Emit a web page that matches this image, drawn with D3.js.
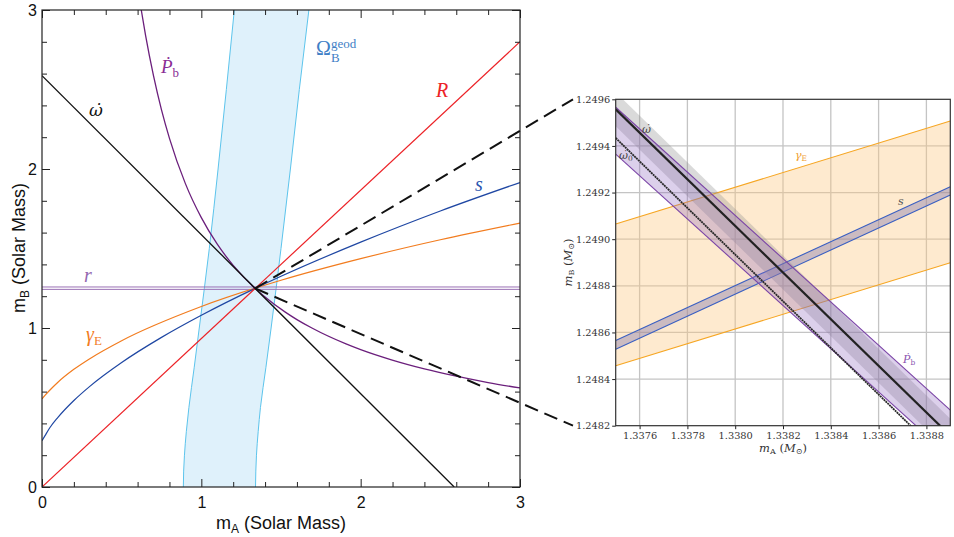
<!DOCTYPE html>
<html>
<head>
<meta charset="utf-8">
<script src="https://cdn.jsdelivr.net/npm/d3@7"></script>
<style>
  body { margin: 0; background: #fff; }
  svg { display: block; }
  .lt text { font-family: "Liberation Sans", Arial, sans-serif; font-size: 16px; fill: #111; }
  .rt text { font-family: "DejaVu Serif", serif; font-size: 9.8px; fill: #333; }
</style>
</head>
<body>
<svg id="chart" width="954" height="537"></svg>
<script>
// ---- left panel data (solar masses) ----
var majorTicks = [0, 1, 2, 3];
var minorTicks = [0.2, 0.4, 0.6, 0.8, 1.2, 1.4, 1.6, 1.8, 2.2, 2.4, 2.6, 2.8];
var omegaDotLine = [[0, 2.587], [2.587, 0]];
var ratioLine = [[0, 0], [3, 2.8]];
var sCurve = [[0, 0.291], [0.02, 0.325], [0.05, 0.374], [0.1, 0.438], [0.2, 0.544], [0.3, 0.633],
              [0.5, 0.783], [0.75, 0.941], [1.0, 1.080], [1.5, 1.325], [2.0, 1.540], [2.5, 1.736], [3.0, 1.915]];
var gammaCurve = [[0, 0.554], [0.02, 0.578], [0.05, 0.61], [0.1, 0.659], [0.2, 0.74], [0.3, 0.807],
                  [0.5, 0.92], [1.0, 1.135], [1.5, 1.30], [2.0, 1.436], [2.5, 1.555], [3.0, 1.66]];
var pbdotCurve = [[0.623, 3.0], [0.65, 2.84], [0.7, 2.585], [0.75, 2.372], [0.8, 2.193], [0.9, 1.908],
                  [1.0, 1.694], [1.1, 1.527], [1.2, 1.394], [1.3381, 1.2489], [1.394, 1.2], [1.527, 1.1],
                  [1.6, 1.053], [1.694, 1.0], [1.908, 0.9], [2.0, 0.864], [2.193, 0.8], [2.4, 0.743],
                  [2.585, 0.7], [2.8, 0.657], [3.0, 0.623]];
var shapiroR = [1.243, 1.258];
// geodetic precession band: mB, left edge mA, right edge mA
var geodMB    = [0, 0.1, 0.2, 0.35, 0.5, 0.75, 1.0, 1.5, 2.0, 2.5, 3.0];
var geodLeft  = [0.887, 0.889, 0.894, 0.906, 0.922, 0.955, 0.987, 1.05, 1.105, 1.157, 1.207];
var geodRight = [1.340, 1.342, 1.346, 1.357, 1.371, 1.405, 1.438, 1.500, 1.559, 1.615, 1.675];
var solution = [1.3381, 1.2489];

// ---- right panel data (zoom) ----
var zoomMA = [1.3375, 1.3389];
var zoomXTicks = [1.3376, 1.3378, 1.3380, 1.3382, 1.3384, 1.3386, 1.3388];
var zoomYTicks = [1.2482, 1.2484, 1.2486, 1.2488, 1.2490, 1.2492, 1.2494, 1.2496];
var gammaHi = [1.249065, 1.249507], gammaLo = [1.248457, 1.248899];
var sHi = [1.248565, 1.249225], sLo = [1.248528, 1.249190];
var omdot = [1.249557, 1.248157], omdotHi = [1.249630, 1.248230], omdotLo = [1.249484, 1.248084];
var omdot0 = [1.249434, 1.248034];
var pbHi = [1.249566, 1.248267], pbLo = [1.249365, 1.248067];

var svg = d3.select("#chart");

// ================= left panel =================
var x = d3.scaleLinear().domain([0, 3]).range([42, 520]);
var y = d3.scaleLinear().domain([0, 3]).range([487, 10]);

svg.append("clipPath").attr("id", "clipL").append("rect")
  .attr("x", 42).attr("y", 10).attr("width", 478).attr("height", 477);

var L = svg.append("g").attr("clip-path", "url(#clipL)");

// geodetic band
var geodRows = geodMB.map(function (m, i) { return { mB: m, lo: geodLeft[i], hi: geodRight[i] }; });
L.append("path").datum(geodRows)
  .attr("d", d3.area().curve(d3.curveMonotoneY).y(function (d) { return y(d.mB); })
    .x0(function (d) { return x(d.lo); }).x1(function (d) { return x(d.hi); }))
  .style("fill", "#dff1fb");
[geodLeft, geodRight].forEach(function (edge) {
  L.append("path").datum(geodRows)
    .attr("d", d3.line().curve(d3.curveMonotoneY).y(function (d) { return y(d.mB); })
      .x(function (d, i) { return x(edge[i]); }))
    .style("fill", "none").style("stroke", "#5cc4ec").style("stroke-width", 1);
});

var line = d3.line().x(function (d) { return x(d[0]); }).y(function (d) { return y(d[1]); });
var curve = d3.line().curve(d3.curveMonotoneX).x(function (d) { return x(d[0]); }).y(function (d) { return y(d[1]); });

shapiroR.forEach(function (v) {
  L.append("line").attr("x1", x(0)).attr("x2", x(3)).attr("y1", y(v)).attr("y2", y(v))
    .style("stroke", "#9a70b4").style("stroke-width", 1);
});
L.append("path").datum(gammaCurve).attr("d", curve).style("fill", "none").style("stroke", "#f27c1f").style("stroke-width", 1.2);
L.append("path").datum(sCurve).attr("d", curve).style("fill", "none").style("stroke", "#1f47a3").style("stroke-width", 1.2);
L.append("path").datum(ratioLine).attr("d", line).style("fill", "none").style("stroke", "#ec2227").style("stroke-width", 1.2);
L.append("path").datum(pbdotCurve).attr("d", curve).style("fill", "none").style("stroke", "#6b1f7c").style("stroke-width", 1.3);
L.append("path").datum(omegaDotLine).attr("d", line).style("fill", "none").style("stroke", "#111").style("stroke-width", 1.3);

// frame + inward ticks
var gl = svg.append("g").attr("class", "lt");
function ticksOn(axis, pos, cls) {
  gl.append("g").attr("transform", pos)
    .call(axis.tickValues(minorTicks).tickSize(-5).tickFormat(""))
    .call(function (g) { g.select(".domain").remove(); });
  var g2 = gl.append("g").attr("transform", pos)
    .call(axis.tickValues(majorTicks).tickSize(-8).tickFormat(cls ? d3.format("d") : ""));
  g2.select(".domain").remove();
  return g2;
}
ticksOn(d3.axisBottom(x), "translate(0,487)", true).call(function (g) { g.selectAll("text").attr("y", 10); });
ticksOn(d3.axisTop(x), "translate(0,10)", false);
ticksOn(d3.axisLeft(y), "translate(42,0)", true).call(function (g) { g.selectAll("text").attr("x", -5); });
ticksOn(d3.axisRight(y), "translate(520,0)", false);
gl.selectAll(".tick line").style("stroke", "#222");
svg.append("rect").attr("x", 42).attr("y", 10).attr("width", 478).attr("height", 477)
  .style("fill", "none").style("stroke", "#222").style("stroke-width", 1.2);

// axis titles
var xt = svg.append("text").attr("x", 281).attr("y", 529).attr("text-anchor", "middle")
  .style("font-family", "Liberation Sans, Arial, sans-serif").style("font-size", "18px").style("fill", "#111");
xt.append("tspan").text("m");
xt.append("tspan").attr("dy", 4).style("font-size", "12px").text("A");
xt.append("tspan").attr("dy", -4).text(" (Solar Mass)");
var yt = svg.append("text").attr("transform", "translate(25,248) rotate(-90)").attr("text-anchor", "middle")
  .style("font-family", "Liberation Sans, Arial, sans-serif").style("font-size", "18px").style("fill", "#111");
yt.append("tspan").text("m");
yt.append("tspan").attr("dy", 4).style("font-size", "12px").text("B");
yt.append("tspan").attr("dy", -4).text(" (Solar Mass)");

// curve labels
function label(px, py, parts, color, family) {
  var t = svg.append("text").attr("x", px).attr("y", py)
    .style("font-family", family || "Liberation Serif, Times New Roman, serif").style("fill", color);
  parts.forEach(function (p) {
    t.append("tspan").attr("dy", p.dy || 0).style("font-size", p.size + "px")
      .style("font-style", p.italic ? "italic" : "normal").text(p.text);
  });
  return t;
}
// omega-dot as one glyph cluster (DejaVu places the combining dot properly)
label(89, 116, [{ text: "\u03c9\u0307", size: 17, italic: true }], "#111", "DejaVu Serif, serif");
label(161, 73, [{ text: "\u1e56", size: 19, italic: true }, { text: "b", size: 13, dy: 4 }], "#8a2c95");
label(436, 97, [{ text: "R", size: 20, italic: true }], "#ec2227");
label(475, 191, [{ text: "s", size: 20, italic: true }], "#2a55b0");
label(84, 282, [{ text: "r", size: 20, italic: true }], "#9467b0");
label(86, 341, [{ text: "\u03b3", size: 20, italic: true }, { text: "E", size: 13, dy: 4 }], "#f27c1f");
label(316, 55, [{ text: "\u03a9", size: 20 }], "#3f80c6");
label(331, 48, [{ text: "geod", size: 13 }], "#3f80c6");
label(331, 62, [{ text: "B", size: 13 }], "#3f80c6");

// ================= right panel =================
var xr = d3.scaleLinear().domain(zoomMA).range([615.7, 950.3]);
var yr = d3.scaleLinear().domain([1.2482, 1.2496]).range([425.7, 99.3]);

// dashed connectors
[1.2496, 1.2482].forEach(function (v) {
  svg.append("line").attr("x1", x(solution[0])).attr("y1", y(solution[1]))
    .attr("x2", 573).attr("y2", yr(v))
    .style("stroke", "#111").style("stroke-width", 2).style("stroke-dasharray", "14,7");
});

svg.append("clipPath").attr("id", "clipR").append("rect")
  .attr("x", 615.7).attr("y", 99.3).attr("width", 334.6).attr("height", 326.4);
var R = svg.append("g").attr("clip-path", "url(#clipR)");

// grid
zoomXTicks.forEach(function (v) {
  R.append("line").attr("x1", xr(v)).attr("x2", xr(v)).attr("y1", 99.3).attr("y2", 425.7)
    .style("stroke", "#c4c4c4").style("stroke-width", 1.3);
});
zoomYTicks.forEach(function (v) {
  R.append("line").attr("y1", yr(v)).attr("y2", yr(v)).attr("x1", 615.7).attr("x2", 950.3)
    .style("stroke", "#c4c4c4").style("stroke-width", 1.3);
});

function band(hi, lo, fill) {
  var rows = zoomMA.map(function (m, i) { return { m: m, hi: hi[i], lo: lo[i] }; });
  R.append("path").datum(rows)
    .attr("d", d3.area().x(function (d) { return xr(d.m); })
      .y0(function (d) { return yr(d.lo); }).y1(function (d) { return yr(d.hi); }))
    .style("fill", fill);
}
function edge(vals, color, w, dash) {
  R.append("path").datum(zoomMA.map(function (m, i) { return [m, vals[i]]; }))
    .attr("d", d3.line().x(function (d) { return xr(d[0]); }).y(function (d) { return yr(d[1]); }))
    .style("fill", "none").style("stroke", color).style("stroke-width", w)
    .style("stroke-dasharray", dash || null);
}

band(gammaHi, gammaLo, "rgba(252,200,128,0.38)");
edge(gammaHi, "#f6a623", 1.1);
edge(gammaLo, "#f6a623", 1.1);
band(sHi, sLo, "rgba(120,110,170,0.38)");
edge(sHi, "#3a5fc2", 1.1);
edge(sLo, "#3a5fc2", 1.1);
band(omdotHi, omdotLo, "rgba(140,140,140,0.32)");
band(pbHi, pbLo, "rgba(140,100,190,0.3)");
edge(pbHi, "#7b45a6", 1.1);
edge(pbLo, "#7b45a6", 1.1);
edge(omdot0, "#2a2a2a", 1.8, "2,0.6");
edge(omdot, "#222", 2.2);

// spines + ticks
var gr = svg.append("g").attr("class", "rt");
gr.append("g").attr("transform", "translate(0,425.7)")
  .call(d3.axisBottom(xr).tickValues(zoomXTicks).tickSize(3.5).tickPadding(3).tickFormat(d3.format(".4f")))
  .call(function (g) { g.select(".domain").remove(); });
gr.append("g").attr("transform", "translate(615.7,0)")
  .call(d3.axisLeft(yr).tickValues(zoomYTicks).tickSize(3.5).tickPadding(2).tickFormat(d3.format(".4f")))
  .call(function (g) { g.select(".domain").remove(); });
gr.selectAll(".tick line").style("stroke", "#222");
svg.append("rect").attr("x", 615.7).attr("y", 99.3).attr("width", 334.6).attr("height", 326.4)
  .style("fill", "none").style("stroke", "#333").style("stroke-width", 1.2);

// axis titles
function rtitle(t) {
  t.style("font-family", "DejaVu Serif, serif").style("font-size", "11.5px").style("fill", "#333");
  t.append("tspan").style("font-style", "italic").text("m");
  t.append("tspan").attr("dy", 2).style("font-size", "8px").text(t.attr("data-sub"));
  t.append("tspan").attr("dy", -2).text(" (");
  t.append("tspan").style("font-style", "italic").text("M");
  t.append("tspan").attr("dy", 2).style("font-size", "8px").text("\u2299");
  t.append("tspan").attr("dy", -2).text(")");
}
rtitle(svg.append("text").attr("data-sub", "A").attr("x", 783).attr("y", 452).attr("text-anchor", "middle"));
rtitle(svg.append("text").attr("data-sub", "B").attr("transform", "translate(572,262.5) rotate(-90)").attr("text-anchor", "middle"));

// band labels
function rlabel(px, py, main, sub, color) {
  var t = svg.append("text").attr("x", px).attr("y", py)
    .style("font-family", "DejaVu Serif, serif").style("font-size", "11px").style("fill", color);
  t.append("tspan").style("font-style", "italic").text(main);
  if (sub) t.append("tspan").attr("dy", 2).style("font-size", "7.5px").text(sub);
}
rlabel(642, 133, "\u03c9\u0307", null, "#444");
rlabel(619, 159, "\u03c9\u0307", "0", "#444");
rlabel(795, 159, "\u03b3", "E", "#f0a030");
rlabel(898, 205, "s", null, "#555");
rlabel(903, 363, "\u1e56", "b", "#8a55b0");
</script>
</body>
</html>
